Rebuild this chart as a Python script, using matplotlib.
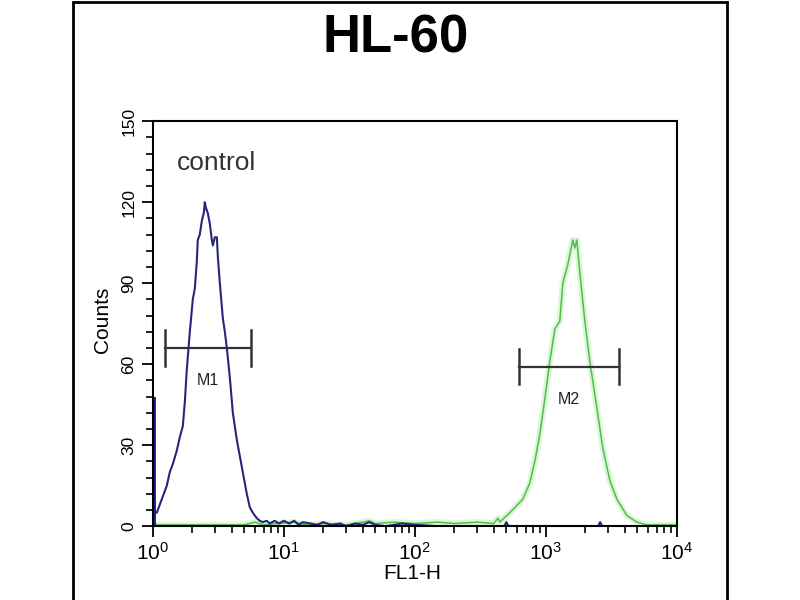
import matplotlib
matplotlib.use("Agg")
import matplotlib.pyplot as plt
from matplotlib.patches import Rectangle
from matplotlib.ticker import FixedLocator, MultipleLocator, LogLocator, NullFormatter

plt.rcParams["font.family"] = ["Liberation Sans", "DejaVu Sans"]
plt.rcParams["mathtext.fontset"] = "custom"
plt.rcParams["mathtext.rm"] = "Liberation Sans"
plt.rcParams["mathtext.it"] = "Liberation Sans"

# control histogram (blue), FL1-H vs counts
control_x = [1.0, 1.0, 1.006, 1.012, 1.018, 1.024, 1.036, 1.073, 1.131, 1.192,
             1.279, 1.348, 1.421, 1.525, 1.607, 1.694, 1.756, 1.818, 1.917, 2.020,
             2.092, 2.167, 2.205, 2.284, 2.366, 2.451, 2.495, 2.540, 2.630, 2.726,
             2.822, 2.873, 2.975, 3.082, 3.136, 3.249, 3.425, 3.548, 3.675, 3.874,
             4.083, 4.378, 4.615, 4.950, 5.218, 5.501, 5.799, 6.217, 6.554, 6.910,
             7.408, 7.819, 8.5, 9.2, 10.0, 11.0, 12.0, 13.0, 14.0, 16.0,
             18.0, 20.0, 23.0, 27.0, 30.0, 35.0, 40.0, 45.0, 50.0, 60.0,
             80.0, 100.0, 150.0, 300.0, 480.0, 500.0, 520.0, 2500.0, 2600.0, 2700.0,
             10000.0]
control_y = [0, 47, 4, 40, 25, 8, 5, 5, 8, 11,
             15, 20, 23, 28, 33, 37, 46, 58, 72, 84,
             88, 98, 106, 108, 113, 116, 120, 118, 116, 112,
             106, 104, 107, 107, 100, 90, 77, 72, 66, 55,
             42, 32, 26, 18, 12, 7, 5, 3, 2, 1.5,
             2, 1, 2, 1, 2, 1, 2, 0.5, 1.5, 1,
             0.5, 1.5, 0.5, 1, 0, 1, 0.5, 1.5, 0.5, 0,
             1, 0.5, 0, 0, 0, 1.5, 0, 0, 1.5, 0,
             0]

# stained sample histogram (green)
sample_x = [1.0, 5.0, 6.0, 7.0, 9.0, 12.0, 15.0, 20.0, 30.0, 40.0,
            45.0, 50.0, 70.0, 100.0, 150.0, 200.0, 300.0, 400.0, 432.0, 445.0,
            531.0, 667.0, 755.0, 824.0, 900.0, 982.0, 1073.0, 1172.0, 1279.0, 1349.0,
            1473.0, 1607.0, 1664.0, 1725.0, 1819.0, 1986.0, 2168.0, 2450.0, 2722.0, 3080.0,
            3487.0, 4150.0, 4955.0, 5902.0, 10000.0]
sample_y = [0.5, 0.5, 1.5, 0.5, 1, 1.5, 0.5, 1, 0.5, 1.5,
            2, 1, 1.5, 1, 1.5, 1, 1.5, 1, 3, 1.5,
            5, 10, 16, 24, 34, 47, 61, 73, 76, 90,
            97, 106, 103, 106, 94, 76, 61, 44, 29, 17,
            10, 4, 1.5, 0.5, 0.5]

# marker gates: label, left, right, level
gate_names = ["M1", "M2"]
gate_left = [1.235, 622.0]
gate_right = [5.606, 3607.0]
gate_level = [66, 59]

xtick_vals = [1, 10, 100, 1000, 10000]
xtick_text = ["$10^{0}$", "$10^{1}$", "$10^{2}$", "$10^{3}$", "$10^{4}$"]
ytick_vals = [0, 30, 60, 90, 120, 150]

fig = plt.figure(figsize=(8, 6), dpi=100)
ax = fig.add_axes([0.191, 0.123, 0.655, 0.675])

ax.plot(sample_x, sample_y, color="#c4f2bc", lw=4.5, alpha=0.6, solid_joinstyle="round")
ax.plot(sample_x, sample_y, color="#52bb52", lw=1.1)
ax.plot(control_x, control_y, color="#26267a", lw=1.5)
# thick bar of events piled at the first channel
ax.plot(control_x[:2], control_y[:2], color="#1c1c8a", lw=3.5)

for name, lo, hi, lev in zip(gate_names, gate_left, gate_right, gate_level):
    ax.plot([lo, hi], [lev, lev], color="#333333", lw=1.6)
    ax.plot([lo, lo], [lev - 6.5, lev + 6.5], color="#333333", lw=1.8)
    ax.plot([hi, hi], [lev - 6.5, lev + 6.5], color="#333333", lw=1.8)
    mid = (lo * hi) ** 0.5
    ax.text(mid, lev - 12, name, ha="center", va="center", fontsize=11.5,
            color="#222222")

ax.text(0.046, 0.896, "control", transform=ax.transAxes, ha="left",
        va="center", fontsize=19, color="#333333")

ax.set_xscale("log")
ax.set_xlim(1, 10000)
ax.set_ylim(0, 150)
ax.xaxis.set_major_locator(FixedLocator(xtick_vals))
ax.set_xticklabels(xtick_text, fontsize=15)
ax.xaxis.set_minor_locator(LogLocator(base=10, subs=range(2, 10)))
ax.xaxis.set_minor_formatter(NullFormatter())
ax.set_yticks(ytick_vals)
ax.set_yticklabels([str(v) for v in ytick_vals], rotation=90, va="center",
                   fontsize=12.5)
ax.yaxis.set_minor_locator(MultipleLocator(6))
ax.tick_params(which="major", direction="out", length=8, width=1.3)
ax.tick_params(axis="x", which="major", pad=3)
ax.tick_params(axis="y", which="major", pad=4)
ax.tick_params(which="minor", direction="out", length=5, width=1.2)
for sp in ax.spines.values():
    sp.set_linewidth(1.5)

ax.set_ylabel("Counts", fontsize=15)
ax.yaxis.set_label_coords(-0.078, 0.51)
ax.set_xlabel("FL1-H", fontsize=15)
ax.xaxis.set_label_coords(0.496, -0.093)

fig.text(0.495, 0.936, "HL-60", ha="center", va="center", fontsize=38,
         fontweight="bold")

fig.add_artist(Rectangle((73 / 800, -0.02), 654 / 800, 1.0 - 2 / 600 + 0.02,
                         transform=fig.transFigure, fill=False, lw=2,
                         edgecolor="black"))

fig.savefig("out.png", dpi=100)
